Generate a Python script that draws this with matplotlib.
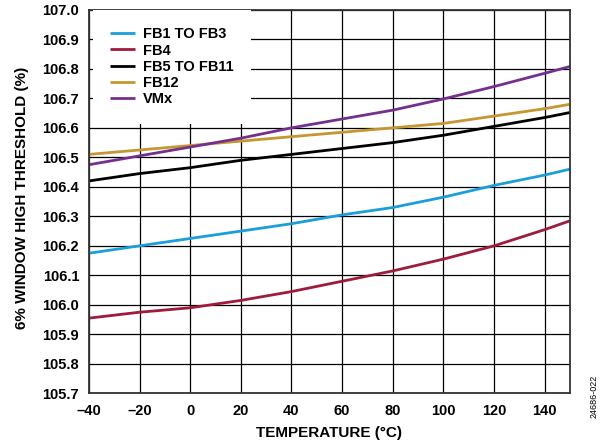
import matplotlib
matplotlib.use("Agg")
import matplotlib.pyplot as plt

plt.rcParams["font.family"] = ["Liberation Sans", "DejaVu Sans"]

# temperature (°C)
temp = [-40, -20, 0, 20, 40, 60, 80, 100, 120, 140, 150]

# threshold (%)
fb1_fb3 = [106.175, 106.200, 106.225, 106.250, 106.275, 106.305, 106.330,
           106.365, 106.405, 106.440, 106.460]
fb4 = [105.955, 105.975, 105.990, 106.015, 106.045, 106.080, 106.115,
       106.155, 106.200, 106.255, 106.285]
fb5_fb11 = [106.420, 106.445, 106.465, 106.490, 106.510, 106.530, 106.550,
            106.575, 106.605, 106.635, 106.652]
fb12 = [106.510, 106.525, 106.540, 106.555, 106.570, 106.585, 106.600,
        106.615, 106.640, 106.665, 106.680]
vmx = [106.475, 106.505, 106.535, 106.565, 106.600, 106.630, 106.660,
       106.698, 106.740, 106.785, 106.808]

series = [
    ("FB1 TO FB3", fb1_fb3, "#1a9fd9"),
    ("FB4", fb4, "#9e1b3c"),
    ("FB5 TO FB11", fb5_fb11, "#000000"),
    ("FB12", fb12, "#c6972f"),
    ("VMx", vmx, "#74308c"),
]

xticks = [-40, -20, 0, 20, 40, 60, 80, 100, 120, 140]
xticklabels = ["\u201340", "\u201320", "0", "20", "40", "60", "80", "100", "120", "140"]
yticks = [105.7, 105.8, 105.9, 106.0, 106.1, 106.2, 106.3, 106.4, 106.5,
          106.6, 106.7, 106.8, 106.9, 107.0]

FS = 10.5

fig = plt.figure(figsize=(6.09, 4.48), dpi=100)
ax = fig.add_axes([0.146, 0.122, 0.790, 0.856])

for label, vals, col in series:
    ax.plot(temp, vals, color=col, lw=2.0, label=label, solid_capstyle="butt")

ax.set_xlim(-40, 150)
ax.set_ylim(105.7, 107.0)
ax.set_xticks(xticks)
ax.set_xticklabels(xticklabels)
ax.set_yticks(yticks)
ax.set_yticklabels([f"{v:.1f}" for v in yticks])
ax.tick_params(length=0, labelsize=FS)
ax.tick_params(axis="x", pad=8)
ax.tick_params(axis="y", pad=7)
for lbl in ax.get_xticklabels() + ax.get_yticklabels():
    lbl.set_fontweight("bold")

ax.grid(True, color="black", lw=0.9)
ax.set_axisbelow(True)
for sp in ax.spines.values():
    sp.set_color("#333333")
    sp.set_linewidth(1.3)

ax.set_xlabel("TEMPERATURE (°C)", fontsize=11, fontweight="bold")
ax.set_ylabel("6% WINDOW HIGH THRESHOLD (%)", fontsize=11, fontweight="bold")
ax.xaxis.set_label_coords(0.5, -0.104)
ax.xaxis.label.set_va("center")
ax.yaxis.set_label_coords(-0.139, 0.511)
ax.yaxis.label.set_va("center")

leg = ax.legend(loc="upper left", frameon=True, fancybox=False,
                prop={"size": FS, "weight": "bold"}, handlelength=1.7,
                labelspacing=0.15, borderaxespad=0.0, borderpad=1.2,
                handletextpad=0.55, bbox_to_anchor=(0.008, 1.0))
leg.get_frame().set_facecolor("white")
leg.get_frame().set_edgecolor("none")
leg.get_frame().set_alpha(1.0)

fig.text(0.975, 0.115, "24686-022", rotation=90, fontsize=6.5,
         ha="center", va="center")

fig.savefig("out.png", dpi=100)
